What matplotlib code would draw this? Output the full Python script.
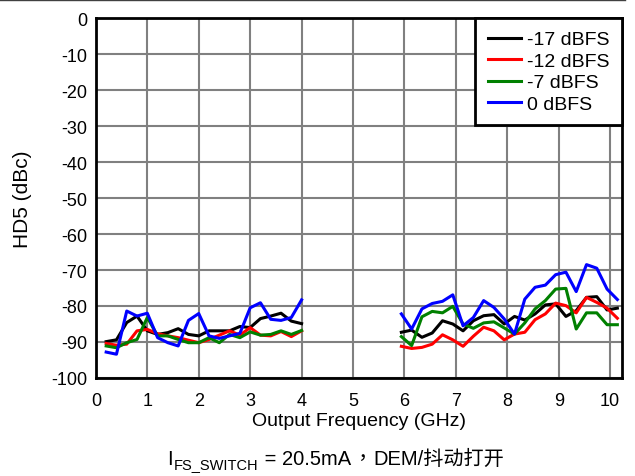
import matplotlib
matplotlib.use("Agg")
import matplotlib.pyplot as plt
from matplotlib.lines import Line2D

plt.rcParams["font.family"] = ["Liberation Sans", "Noto Sans CJK SC", "DejaVu Sans"]
plt.rcParams["axes.unicode_minus"] = False

# left band: 0.2 .. 4.0 GHz
freq_lo = [0.2, 0.4, 0.6, 0.8, 1.0, 1.2, 1.4, 1.6, 1.8, 2.0,
           2.2, 2.4, 2.6, 2.8, 3.0, 3.2, 3.4, 3.6, 3.8, 4.0]
# right band: ~5.94 .. 10.14 GHz
freq_hi = [5.94, 6.14, 6.34, 6.54, 6.74, 6.94, 7.14, 7.34, 7.54, 7.74, 7.94,
           8.14, 8.34, 8.54, 8.74, 8.94, 9.14, 9.34, 9.54, 9.74, 9.94, 10.14]

m17_lo = [-89.9, -89.4, -84.6, -82.8, -86.9, -87.9, -87.4, -86.3, -87.9, -88.3,
          -86.9, -86.9, -86.9, -85.7, -86.0, -83.5, -82.8, -82.0, -84.2, -84.9]
m12_lo = [-90.4, -90.9, -90.6, -86.9, -86.5, -87.7, -88.3, -88.8, -89.5, -90.2,
          -89.3, -88.1, -86.9, -88.1, -86.0, -88.1, -88.3, -87.1, -88.5, -86.9]
m7_lo = [-91.1, -91.6, -90.2, -89.3, -83.2, -88.3, -88.3, -89.3, -90.2, -90.2,
         -88.8, -90.2, -87.9, -88.8, -87.2, -88.1, -87.9, -86.9, -87.9, -86.8]
z0_lo = [-92.8, -93.4, -81.4, -82.8, -82.0, -88.8, -90.2, -91.1, -84.0, -82.1,
         -88.3, -89.0, -88.3, -87.6, -80.5, -79.1, -83.7, -84.0, -83.2, -78.3]

m17_hi = [-87.3, -86.7, -88.7, -87.5, -84.1, -85.0, -86.9, -84.1, -82.7, -82.4, -85.0,
          -82.9, -83.9, -82.2, -79.7, -79.4, -82.9, -81.3, -77.6, -77.4, -81.1, -80.6]
m12_hi = [-91.2, -91.8, -91.5, -90.6, -88.0, -89.4, -91.2, -88.4, -85.9, -86.9, -89.4,
          -87.8, -87.3, -83.8, -82.2, -79.2, -79.9, -81.9, -77.6, -79.0, -80.6, -83.4]
m7_hi = [-88.5, -91.0, -83.0, -81.5, -81.9, -80.1, -85.0, -86.2, -84.7, -84.4, -86.1,
         -87.8, -84.7, -80.8, -78.5, -75.3, -75.1, -86.4, -81.9, -81.9, -85.2, -85.2]
z0_hi = [-82.2, -86.4, -80.8, -79.3, -78.7, -76.9, -85.5, -83.2, -78.5, -80.4, -83.6,
         -87.8, -78.1, -74.8, -74.2, -71.3, -70.6, -76.0, -68.5, -69.5, -75.3, -78.2]

series = [
    ("-17 dBFS", "black", m17_lo, m17_hi),
    ("-12 dBFS", "red", m12_lo, m12_hi),
    ("-7 dBFS", "green", m7_lo, m7_hi),
    ("0 dBFS", "blue", z0_lo, z0_hi),
]

fig = plt.figure(figsize=(6.35, 4.77), dpi=100)
ax = fig.add_axes([0.151, 0.2055, 0.8285, 0.7545])

for label, color, lo, hi in series:
    ax.plot(freq_lo, lo, color=color, lw=2.2, label=label)
    ax.plot(freq_hi, hi, color=color, lw=2.2)

ax.set_xlim(0, 10.23)
ax.set_ylim(-100, 0)
ax.set_xticks(range(0, 11))
ax.set_yticks(range(-100, 1, 10))
ax.grid(True, color="#808080", lw=1.5)
ax.set_axisbelow(True)
for s in ax.spines.values():
    s.set_linewidth(2.0)
    s.set_color("black")
ax.tick_params(length=0, labelsize=13, pad=6)
ax.tick_params(axis="x", pad=10)

ax.set_xlabel("Output Frequency (GHz)", fontsize=14, labelpad=2)
ax.set_ylabel("HD5 (dBc)", fontsize=15, labelpad=14)

leg = ax.legend(loc="upper right", fontsize=14, frameon=True, fancybox=False,
                borderaxespad=0, handlelength=1.7, labelspacing=0.2,
                borderpad=0.65, handletextpad=0.3)
leg.get_frame().set_edgecolor("black")
leg.get_frame().set_linewidth(2.0)
leg.get_frame().set_alpha(1)

# caption pieces placed one after another on a common baseline
caption = [
    ("I", 14.5, 0, None),
    ("FS_SWITCH", 10.5, -4, None),
    (" = 20.5mA", 14.5, 0, None),
    ("，", 14.5, 0, ["Noto Sans CJK TC"]),
    ("DEM/抖动打开", 14.5, 0, None),
]
renderer = fig.canvas.get_renderer()
x_px = 167
base_px = 12
for txt, size, dy, fam in caption:
    kw = {"family": fam} if fam else {}
    t = fig.text(x_px / 635, (base_px + dy) / 477, txt, fontsize=size,
                 ha="left", va="baseline", **kw)
    x_px = t.get_window_extent(renderer).x1 + 1

fig.add_artist(Line2D([0, 0.985], [0.997, 0.997], color="#404040", lw=1.0,
                      transform=fig.transFigure))

fig.savefig("out.png", dpi=100)
